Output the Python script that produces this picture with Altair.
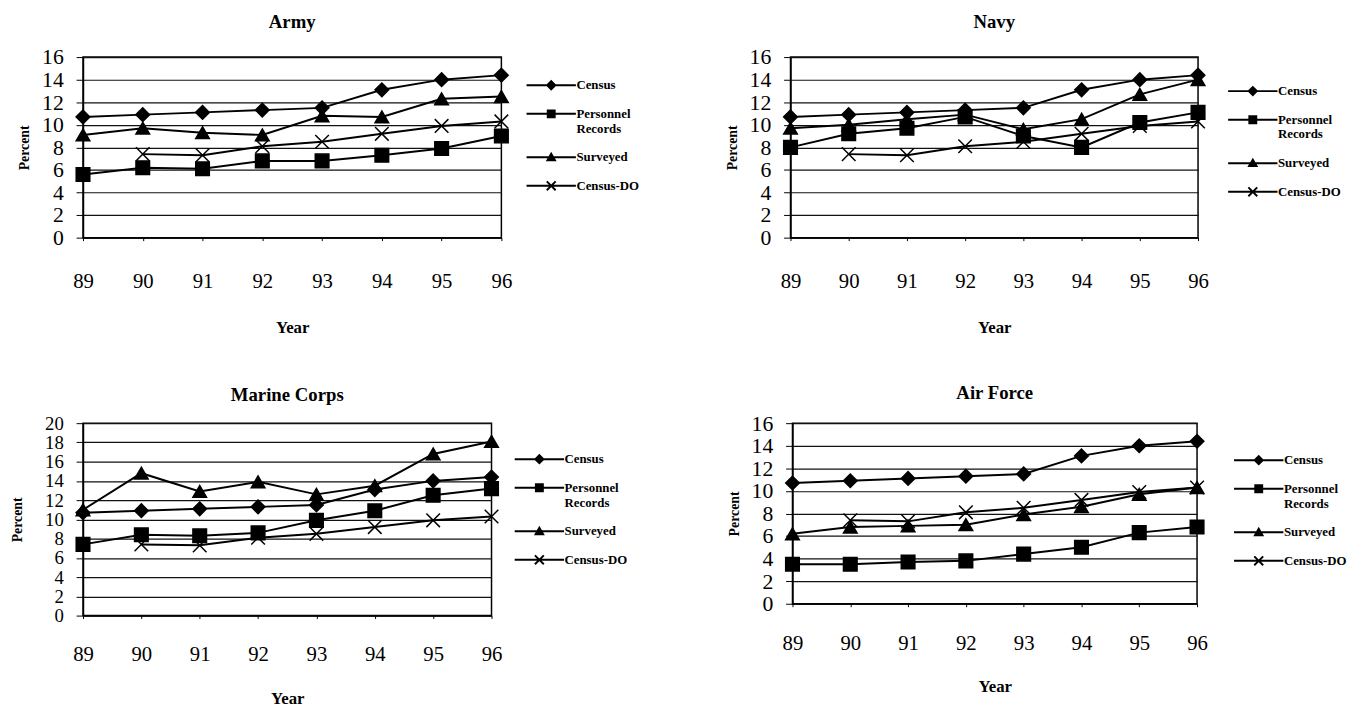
import altair as alt
import pandas as pd

years = ["89", "90", "91", "92", "93", "94", "95", "96"]
series_names = ["Census", "Personnel Records", "Surveyed", "Census-DO"]

census = [10.7, 10.9, 11.1, 11.3, 11.5, 13.1, 14.0, 14.4]
census_do = [None, 7.4, 7.3, 8.1, 8.5, 9.2, 9.9, 10.3]

army_personnel = [5.6, 6.2, 6.1, 6.8, 6.8, 7.3, 7.9, 9.0]
army_surveyed = [9.1, 9.7, 9.3, 9.1, 10.8, 10.7, 12.3, 12.5]

navy_personnel = [8.0, 9.2, 9.7, 10.7, 9.0, 8.0, 10.2, 11.1]
navy_surveyed = [9.7, 10.0, 10.5, 10.9, 9.6, 10.5, 12.7, 14.0]

marine_personnel = [7.4, 8.4, 8.3, 8.6, 9.9, 10.9, 12.5, 13.2]
marine_surveyed = [11.0, 14.8, 12.9, 13.9, 12.6, 13.5, 16.8, 18.1]

airforce_personnel = [3.5, 3.5, 3.7, 3.8, 4.4, 5.0, 6.3, 6.8]
airforce_surveyed = [6.2, 6.8, 6.9, 7.0, 7.9, 8.6, 9.7, 10.3]

SERIF = "Liberation Serif"

point_shapes = ["diamond", "square", "triangle-up", "M-1,-1L1,1M-1,1L1,-1"]
BAR = "M-5,-0.2H5V0.2H-5Z"
legend_shapes = [
    BAR + "M0,-1.1L1.1,0L0,1.1L-1.1,0Z",
    BAR + "M-0.9,-0.9H0.9V0.9H-0.9Z",
    BAR + "M0,-1.1L1.1,0.8H-1.1Z",
    BAR + "M-0.76,-1.04L1.04,0.76L0.76,1.04L-1.04,-0.76Z"
    + "M-1.04,0.76L0.76,-1.04L1.04,-0.76L-0.76,1.04Z",
]


def make_df(pers, surv):
    rows = []
    for name, vals in zip(series_names, [census, pers, surv, census_do]):
        for yr, v in zip(years, vals):
            if v is not None:
                rows.append({"year": yr, "series": name, "value": v})
    return pd.DataFrame(rows)


def panel(title, pers, surv, ymax, w, h, leg_dx, leg_y,
          ylab_size=22, ytitle_pad=10, xlab_pad=31, xtitle_pad=28, title_off=14):
    df = make_df(pers, surv)
    base = alt.Chart(df).encode(
        x=alt.X(
            "year:O",
            sort=years,
            scale=alt.Scale(padding=0),
            title="Year",
            axis=alt.Axis(
                labelAngle=0, labelFont=SERIF, labelFontSize=21, labelColor="black",
                labelPadding=xlab_pad, tickSize=3, tickColor="black", domainColor="black",
                titleFont=SERIF, titleFontSize=17, titleFontWeight="bold",
                titleColor="black", titlePadding=xtitle_pad, grid=False,
            ),
        ),
        y=alt.Y(
            "value:Q",
            scale=alt.Scale(domain=[0, ymax], nice=False),
            title="Percent",
            axis=alt.Axis(
                values=list(range(0, ymax + 1, 2)), labelOverlap=False,
                labelFont=SERIF, labelFontSize=ylab_size,
                labelColor="black", labelPadding=13, tickSize=7, tickColor="black",
                domainColor="black", domainWidth=1.5, grid=True, gridColor="#111",
                gridWidth=1.2, titleFont=SERIF, titleFontSize=14, titleFontWeight="bold",
                titleColor="black", titlePadding=ytitle_pad,
            ),
        ),
        detail="series:N",
    )
    lines = base.mark_line(color="black", strokeWidth=2)
    pts = base.mark_point(
        filled=True, color="black", stroke="black", strokeWidth=1.5, size=190, opacity=1
    ).encode(
        shape=alt.Shape(
            "series:N",
            scale=alt.Scale(domain=series_names, range=point_shapes),
            legend=None,
        )
    )
    legpts = base.mark_point(filled=True, color="black", opacity=0).encode(
        shape=alt.Shape(
            "series:N",
            scale=alt.Scale(domain=series_names, range=legend_shapes),
            legend=alt.Legend(
                title=None, orient="none", legendX=w + leg_dx, legendY=leg_y,
                symbolSize=100, symbolOpacity=1, symbolFillColor="black",
                symbolStrokeWidth=0,
                labelFont=SERIF, labelFontSize=13, labelFontWeight="bold",
                labelColor="black", labelOffset=19, rowPadding=15, padding=0,
                labelExpr="datum.label == 'Personnel Records' ? ['Personnel', 'Records'] : datum.label",
            ),
        )
    )
    return (
        alt.layer(lines, pts, legpts)
        .resolve_scale(shape="independent")
        .properties(
            width=w, height=h,
            title=alt.TitleParams(title, font=SERIF, fontSize=19, fontWeight="bold",
                                  color="black", offset=title_off),
        )
    )


army = panel("Army", army_personnel, army_surveyed, 16, 424, 183, 44, 22)
navy = panel("Navy", navy_personnel, navy_surveyed, 16, 413, 183, 49, 28)
marine = panel("Marine Corps", marine_personnel, marine_surveyed, 20, 414, 195, 42, 30,
               ylab_size=19, ytitle_pad=20, xlab_pad=26, xtitle_pad=26, title_off=9)
airforce = panel("Air Force", airforce_personnel, airforce_surveyed, 16, 410, 183, 56, 31,
                 xlab_pad=26, xtitle_pad=26, title_off=9)

chart = alt.vconcat(
    alt.hconcat(army, navy, spacing=85),
    alt.hconcat(marine, airforce, spacing=99),
    spacing=48,
).configure_view(stroke="black", strokeWidth=1.5).properties(
    padding={"top": 0, "left": 2, "right": 2, "bottom": 2}
)

chart.save("out.html", embed_options={"renderer": "svg", "actions": False})
